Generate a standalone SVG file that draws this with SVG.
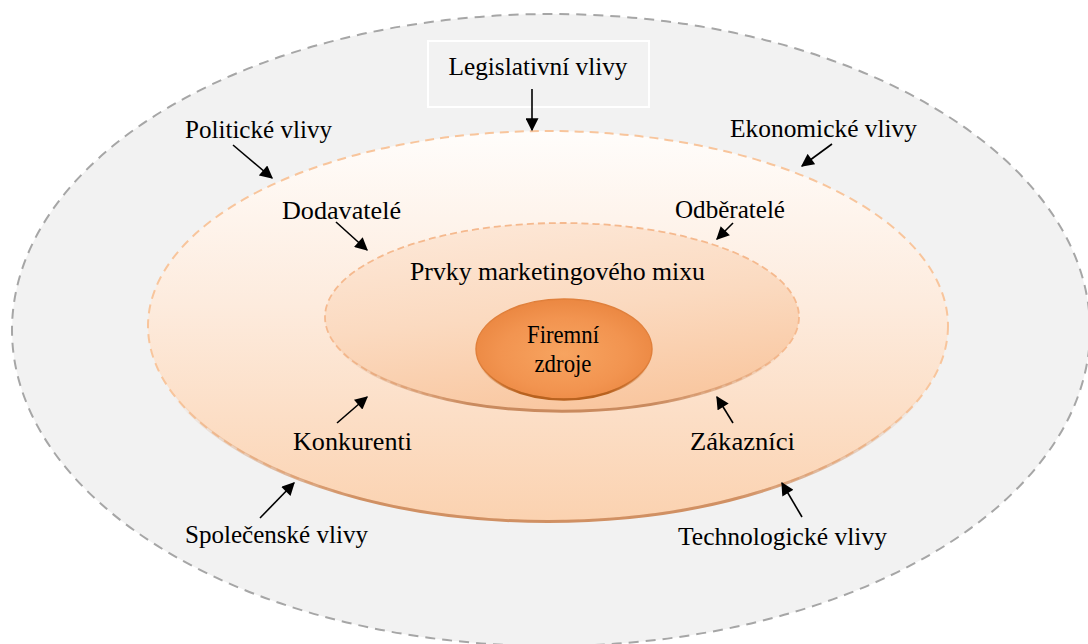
<svg xmlns="http://www.w3.org/2000/svg" width="1088" height="644" viewBox="0 0 1088 644">
<defs>
<style>
text{font-family:"Liberation Serif","Times New Roman",serif;fill:#000;font-size:25px}
.lbl{text-anchor:start}
.conn line{stroke:#000;stroke-width:1.6;marker-end:url(#ahb)}
</style>
<marker id="ahb" viewBox="0 0 10 10" refX="9" refY="5" markerWidth="14" markerHeight="13" markerUnits="userSpaceOnUse" orient="auto">
<path d="M0,0 L10,5 L0,10 z" fill="#000"/>
</marker>
<linearGradient id="gMid" x1="0" y1="0" x2="0" y2="1">
<stop offset="0" stop-color="#fffdfb"/>
<stop offset="0.45" stop-color="#fdebdd"/>
<stop offset="1" stop-color="#fbd2b0"/>
</linearGradient>
<linearGradient id="gIn" x1="0.2" y1="0" x2="0.5" y2="1">
<stop offset="0" stop-color="#fde8d8"/>
<stop offset="0.5" stop-color="#fbdac0"/>
<stop offset="1" stop-color="#f9c7a0"/>
</linearGradient>
<radialGradient id="gCore" cx="0.5" cy="0.55" r="0.6">
<stop offset="0" stop-color="#f7a460"/>
<stop offset="0.6" stop-color="#f29450"/>
<stop offset="1" stop-color="#e9843e"/>
</radialGradient>
<linearGradient id="gEdge" x1="0" y1="0" x2="1" y2="0">
<stop offset="0" stop-color="#d09063" stop-opacity="0"/>
<stop offset="0.25" stop-color="#d09063" stop-opacity="1"/>
<stop offset="0.75" stop-color="#d09063" stop-opacity="1"/>
<stop offset="1" stop-color="#d09063" stop-opacity="0"/>
</linearGradient>
<linearGradient id="gEdge2" x1="0" y1="0" x2="1" y2="0">
<stop offset="0" stop-color="#c98a5e" stop-opacity="0"/>
<stop offset="0.3" stop-color="#c98a5e" stop-opacity="1"/>
<stop offset="0.7" stop-color="#c98a5e" stop-opacity="1"/>
<stop offset="1" stop-color="#c98a5e" stop-opacity="0"/>
</linearGradient>
<linearGradient id="gEdge3" x1="0" y1="0" x2="1" y2="0">
<stop offset="0" stop-color="#b8621f" stop-opacity="0"/>
<stop offset="0.25" stop-color="#b8621f" stop-opacity="1"/>
<stop offset="0.75" stop-color="#b8621f" stop-opacity="1"/>
<stop offset="1" stop-color="#b8621f" stop-opacity="0"/>
</linearGradient>
</defs>
<rect width="1088" height="644" fill="#fff"/>
<g id="outer">
<ellipse cx="551" cy="330" rx="539" ry="316" fill="#f2f2f2" stroke="#a6a6a6" stroke-width="2" stroke-dasharray="10 7"/>
</g>
<g id="legislativni">
<rect x="428" y="41" width="221" height="66" fill="none" stroke="#fff" stroke-width="2"/>
<text x="538" y="75" text-anchor="middle" textLength="179" lengthAdjust="spacingAndGlyphs">Legislativní vlivy</text>
</g>
<g id="middle">
<ellipse cx="548" cy="326" rx="400" ry="195" fill="url(#gMid)" stroke="#f8c59c" stroke-width="2" stroke-dasharray="9 6"/>
<path d="M172,393 A400,195 0 0 0 924,393" fill="none" stroke="url(#gEdge)" stroke-width="3"/>
</g>
<g id="inner">
<ellipse cx="562" cy="317" rx="237" ry="94" fill="url(#gIn)" stroke="#f5b98e" stroke-width="1.8" stroke-dasharray="7 4"/>
<path d="M339,349 A237,94 0 0 0 785,349" fill="none" stroke="url(#gEdge2)" stroke-width="3"/>
</g>
<g id="core">
<ellipse cx="564" cy="349" rx="88" ry="50" fill="url(#gCore)" stroke="#e0803c" stroke-width="1.5"/>
<path d="M478,360 A88,50 0 0 0 650,360" fill="none" stroke="url(#gEdge3)" stroke-width="2.5"/>
<text x="563" y="343" text-anchor="middle" font-size="22" textLength="72" lengthAdjust="spacingAndGlyphs">Firemní</text>
<text x="563" y="372" text-anchor="middle" font-size="22" textLength="57" lengthAdjust="spacingAndGlyphs">zdroje</text>
</g>
<g id="labels">
<text class="lbl" x="185" y="138" textLength="147" lengthAdjust="spacingAndGlyphs">Politické vlivy</text>
<text class="lbl" x="730" y="137" textLength="187" lengthAdjust="spacingAndGlyphs">Ekonomické vlivy</text>
<text class="lbl" x="282" y="219" textLength="119" lengthAdjust="spacingAndGlyphs">Dodavatelé</text>
<text class="lbl" x="675" y="218" textLength="110" lengthAdjust="spacingAndGlyphs">Odběratelé</text>
<text class="lbl" x="410" y="280" textLength="295" lengthAdjust="spacingAndGlyphs">Prvky marketingového mixu</text>
<text class="lbl" x="293" y="450" textLength="119" lengthAdjust="spacingAndGlyphs">Konkurenti</text>
<text class="lbl" x="690" y="450" textLength="105" lengthAdjust="spacingAndGlyphs">Zákazníci</text>
<text class="lbl" x="185" y="543" textLength="183" lengthAdjust="spacingAndGlyphs">Společenské vlivy</text>
<text class="lbl" x="678" y="545" textLength="209" lengthAdjust="spacingAndGlyphs">Technologické vlivy</text>
</g>
<g id="connectors" class="conn">
<line x1="532" y1="89" x2="532" y2="130"/>
<line x1="233" y1="145" x2="272" y2="178"/>
<line x1="832" y1="144" x2="802" y2="166"/>
<line x1="336" y1="222" x2="367" y2="250"/>
<line x1="733" y1="223" x2="717" y2="239"/>
<line x1="337" y1="423" x2="367" y2="397"/>
<line x1="733" y1="423" x2="717" y2="397"/>
<line x1="260" y1="518" x2="294" y2="483"/>
<line x1="802" y1="517" x2="782" y2="483"/>
</g>
</svg>
